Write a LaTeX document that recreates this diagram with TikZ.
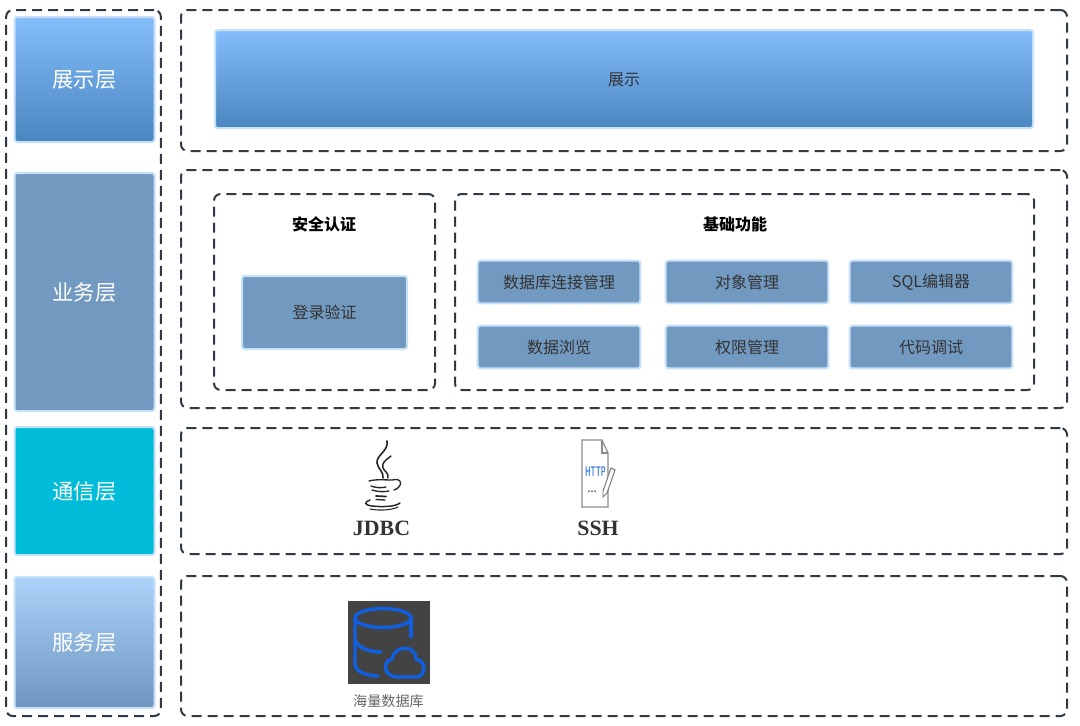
\documentclass[tikz,border=0pt]{standalone}
\usepackage{fontspec}
\setmainfont{Liberation Serif}
\newfontfamily\cjk{Noto Sans CJK SC}
\usepackage{xcolor}
\usetikzlibrary{positioning}
\definecolor{framegray}{HTML}{2F3A44}
\definecolor{edgeblue}{HTML}{C6E0FA}
\definecolor{bizblue}{HTML}{7299C0}
\definecolor{topblue}{HTML}{84BDFB}
\definecolor{lowblue}{HTML}{4A86C0}
\definecolor{paleblue}{HTML}{ABD2F9}
\definecolor{slateblue}{HTML}{6F96BF}
\definecolor{commcyan}{HTML}{00BCD8}
\definecolor{iconblue}{HTML}{0F5FE0}
\definecolor{icongray}{HTML}{434343}
\definecolor{textgray}{HTML}{333333}

\begin{document}
\begin{tikzpicture}[
    x=0.75pt,
    y=-0.75pt,
    frame/.style={
      draw=framegray,
      line width=1.5pt,
      dash pattern=on 7.5pt off 4.5pt,
      rounded corners=5pt,
      inner sep=0pt
    },
    block/.style={
      draw=edgeblue,
      line width=1.5pt,
      rounded corners=2pt,
      inner sep=0pt,
      font=\cjk\fontsize{12}{14}\selectfont,
      text=textgray
    },
    layer/.style={
      block,
      minimum width=105pt,
      font=\cjk\fontsize{16}{19}\selectfont,
      text=white
    },
    func/.style={block, fill=bizblue, minimum width=122pt, minimum height=32pt},
    heading/.style={font=\cjk\bfseries\fontsize{12}{14}\selectfont, text=black},
    proto/.style={font=\bfseries\fontsize{16.4}{19}\selectfont, text=textgray},
    javaline/.style={draw=black!85, line cap=round},
    docline/.style={draw=black!45, line width=0.9pt},
    dbline/.style={draw=iconblue, line width=2.6pt, line cap=round}
  ]
    \path[use as bounding box, fill=white] (0,0) rectangle (1080,725);

    \node[frame, minimum width=116pt, minimum height=529.5pt] (LeftFrame) at (83.5,363) {};
    \node[frame, minimum width=664.5pt, minimum height=105.75pt] (ShowFrame) at (624,80.5) {};
    \node[frame, minimum width=664.5pt, minimum height=178.5pt] (BizFrame) at (624,289) {};
    \node[frame, minimum width=664.5pt, minimum height=94.5pt] (CommFrame) at (624,491) {};
    \node[frame, minimum width=664.5pt, minimum height=105pt] (ServFrame) at (624,646) {};
    \node[frame, minimum width=165.75pt, minimum height=147pt] (AuthFrame) at (324.5,292) {};
    \node[frame, minimum width=434.25pt, minimum height=147pt] (BaseFrame) at (744.5,292) {};

    \node[layer, minimum height=93.75pt, top color=topblue, bottom color=lowblue] (L1) at (84.5,79.5) {展示层};
    \node[layer, minimum height=178.5pt, fill=bizblue] (L2) at (84.5,292) {业务层};
    \node[layer, minimum height=96pt, fill=commcyan] (L3) at (84.5,491) {通信层};
    \node[layer, minimum height=98.25pt, top color=paleblue, bottom color=slateblue] (L4) at (84.5,642.5) {服务层};

    \node[block, minimum width=613.5pt, minimum height=73.5pt, top color=topblue, bottom color=lowblue] (Show) at (624,79) {};
    \node[block, draw=none, text=textgray] (ShowText) at (624,80) {展示};

    \node[heading] (AuthTitle) at (324,224) {安全认证};
    \node[block, fill=bizblue, minimum width=123.75pt, minimum height=54.75pt] (Login) at (324.5,312.5) {登录验证};

    \node[heading] (BaseTitle) at (735,224) {基础功能};
    \node[func] (F1) at (559,282) {数据库连接管理};
    \node[func] (F2) at (747,282) {对象管理};
    \node[func] (F3) at (931,282) {SQL\cjk 编辑器};
    \node[func] (F4) at (559,347) {数据浏览};
    \node[func] (F5) at (747,347) {权限管理};
    \node[func] (F6) at (931,347) {代码调试};

    \draw[javaline, line width=1.2pt] (387,441) .. controls (389,451) and (376,455) .. (377,463) .. controls (378,469) and (384,472) .. (383,478);
    \draw[javaline, line width=1.1pt] (391,456) .. controls (386,460) and (381,463) .. (383,468) .. controls (384,471) and (389,473) .. (388,478);
    \draw[javaline, line width=1pt] (369,481) .. controls (376,479) and (385,480) .. (392,480) .. controls (403,477) and (403,487) .. (394,490);
    \draw[javaline, line width=1pt] (371,486) .. controls (376,488) and (382,488) .. (386,487);
    \draw[javaline, line width=1pt] (372,490) .. controls (378,492) and (385,492) .. (389,491);
    \draw[javaline, line width=1.3pt] (376,496) -- (386,496.500);
    \draw[javaline, line width=1pt] (376,499.500) -- (385,500);
    \draw[javaline, line width=1.1pt] (370,500) .. controls (364,502) and (364,505) .. (372,506) .. controls (382,507) and (395,507) .. (400,503);
    \draw[javaline, line width=0.8pt] (370,509) .. controls (380,511) and (392,510) .. (398,507);

    \draw[docline] (582,440) -- (602,440) -- (608,453) -- (608,507) -- (582,507) -- cycle;
    \draw[docline] (602,440) -- (602,453) -- (608,453);
    \node[font=\sffamily\bfseries\fontsize{10.500}{11}\selectfont, text=iconblue!80, inner sep=0pt, xscale=0.5] (HttpMark) at (595.5,472) {HTTP};
    \node[font=\bfseries\fontsize{9}{9}\selectfont, text=black!55, inner sep=0pt] (DocDots) at (592,492) {...};
    \draw[draw=black!55, line width=0.7pt, fill=white] (603,491) -- (611,468) -- (615,470) -- (607,493) -- (603,497) -- cycle;

    \node[proto] (Jdbc) at (381.5,528) {JDBC};
    \node[proto] (Ssh) at (598,528) {SSH};

    \fill[icongray] (348,601) rectangle (430,684);
    \draw[dbline] (383,618) ellipse (28 and 9.500);
    \draw[dbline] (355,618) -- (355,664) .. controls (355,672) and (368,676) .. (378,676);
    \draw[dbline] (411,618) -- (411,637);
    \draw[dbline] (355,640) .. controls (358,648) and (370,652) .. (381,652);
    \draw[dbline] (398,677) -- (416,677) .. controls (426,677) and (427,661) .. (416,659) .. controls (416,645) and (395,644) .. (392,659) .. controls (382,661) and (383,677) .. (398,677) -- cycle;

    \node[font=\cjk\fontsize{10.600}{12}\selectfont, text=black!60] (DbLabel) at (388.5,701) {海量数据库};
  \end{tikzpicture}
\end{document}
